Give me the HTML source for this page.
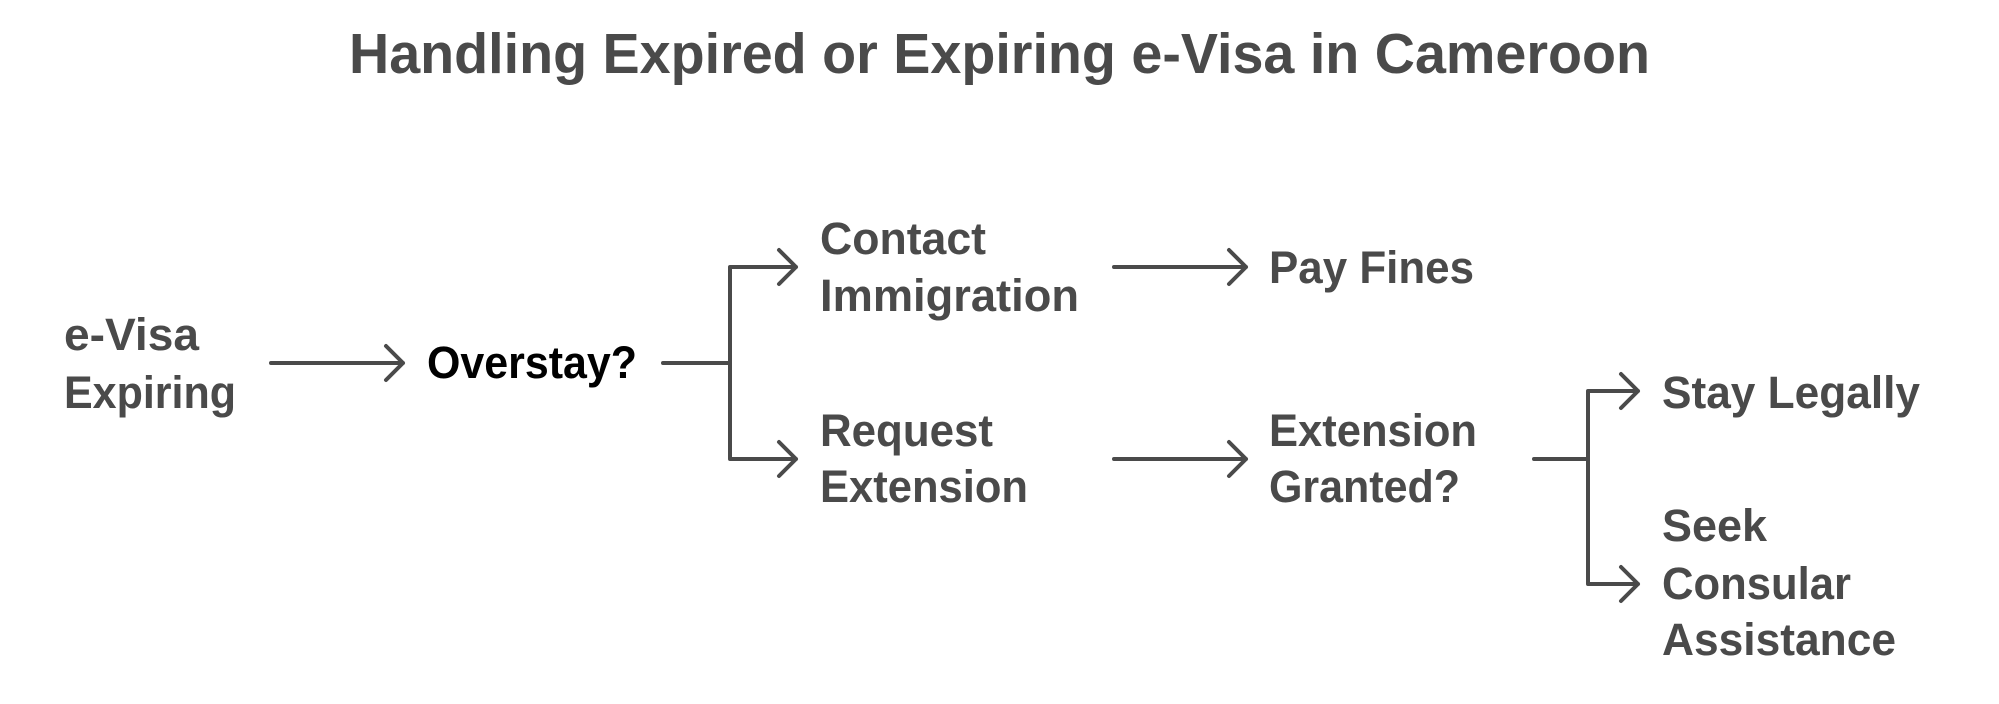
<!DOCTYPE html>
<html><head><meta charset="utf-8"><style>
html,body{margin:0;padding:0;background:#fff;}
svg{display:block;}
text{font-family:"Liberation Sans",sans-serif;font-weight:bold;fill:#4a4a4a;}
</style></head><body>
<svg width="1999" height="704" viewBox="0 0 1999 704" xmlns="http://www.w3.org/2000/svg">
<text x="349" y="73" font-size="57" textLength="1301" lengthAdjust="spacingAndGlyphs">Handling Expired or Expiring e-Visa in Cameroon</text>
<g font-size="45">
<text x="64" y="350" textLength="135" lengthAdjust="spacingAndGlyphs">e-Visa</text>
<text x="64" y="408" textLength="172" lengthAdjust="spacingAndGlyphs">Expiring</text>
<text x="427" y="378" textLength="210" lengthAdjust="spacingAndGlyphs" style="fill:#000">Overstay?</text>
<text x="820" y="254" textLength="166" lengthAdjust="spacingAndGlyphs">Contact</text>
<text x="820" y="311" textLength="259" lengthAdjust="spacingAndGlyphs">Immigration</text>
<text x="820" y="446" textLength="173" lengthAdjust="spacingAndGlyphs">Request</text>
<text x="820" y="502" textLength="208" lengthAdjust="spacingAndGlyphs">Extension</text>
<text x="1269" y="283" textLength="205" lengthAdjust="spacingAndGlyphs">Pay Fines</text>
<text x="1269" y="446" textLength="208" lengthAdjust="spacingAndGlyphs">Extension</text>
<text x="1269" y="502" textLength="191" lengthAdjust="spacingAndGlyphs">Granted?</text>
<text x="1662" y="408" textLength="258" lengthAdjust="spacingAndGlyphs">Stay Legally</text>
<text x="1662" y="541" textLength="105" lengthAdjust="spacingAndGlyphs">Seek</text>
<text x="1662" y="599" textLength="189" lengthAdjust="spacingAndGlyphs">Consular</text>
<text x="1662" y="655" textLength="234" lengthAdjust="spacingAndGlyphs">Assistance</text>
</g>
<g fill="none" stroke="#4a4a4a" stroke-width="4" stroke-linecap="round" stroke-linejoin="round">
<path d="M271 363H403M386 346L403 363L386 380"/>
<path d="M663 363H730M730 267V459M730 267H796M779 250L796 267L779 284M730 459H796M779 442L796 459L779 476"/>
<path d="M1114 267H1246M1229 250L1246 267L1229 284"/>
<path d="M1114 459H1246M1229 442L1246 459L1229 476"/>
<path d="M1534 459H1588M1588 391V584M1588 391H1638M1621 374L1638 391L1621 408M1588 584H1638M1621 567L1638 584L1621 601"/>
</g>
</svg>
</body></html>
